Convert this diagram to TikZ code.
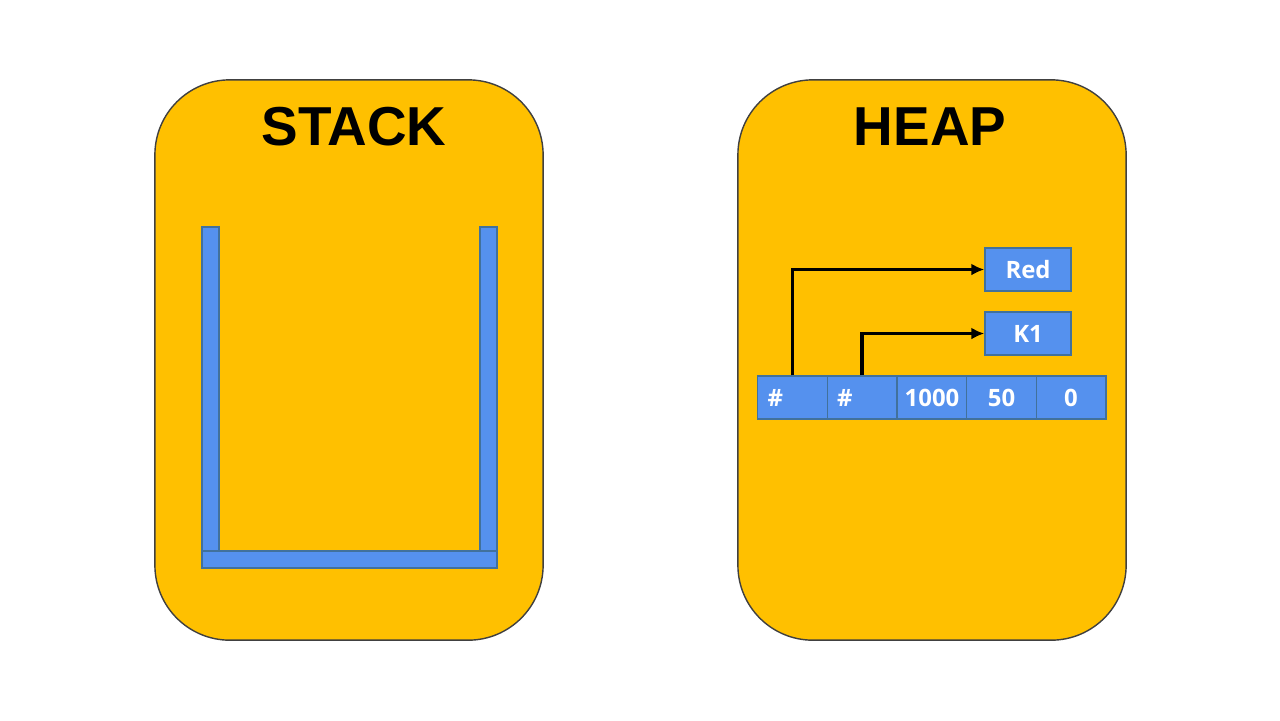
\documentclass[tikz,border=0pt]{standalone}
\usepackage{fontspec}
\setmainfont{Liberation Sans}
\newfontfamily\cellfont{Open Sans}
\usetikzlibrary{arrows.meta}
\definecolor{panelorange}{HTML}{FFC000}
\definecolor{cellblue}{HTML}{5591EE}
\definecolor{celledge}{HTML}{41719C}
\begin{document}
\begin{tikzpicture}[x=0.01cm, y=-0.01cm]

      \tikzset{panel/.style={draw=black!75, fill=panelorange, rounded corners=0.75cm, minimum width=3.88cm, minimum height=5.6cm, inner sep=0pt},
               paneltitle/.style={font=\fontsize{15.6pt}{18pt}\selectfont\bfseries, inner sep=0pt},
               wall/.style={draw=celledge, fill=cellblue, inner sep=0pt},
               cell/.style={draw=celledge, fill=cellblue, text=white, font=\cellfont\fontsize{6.8pt}{8pt}\selectfont\bfseries, minimum width=0.695cm, minimum height=0.43cm, inner sep=0pt},
               hashcell/.style={cell, text width=0.5cm, align=left},
               ptr/.style={->, >={Latex[length=1.3mm, width=1.2mm]}, line width=1.05pt}}
      \useasboundingbox (0,0) rectangle (1280,720);
%% Panels
      	\node[panel] (stack) at (349,360) {};
      	\node[panel] (heap) at (932,360) {};
      	\node[paneltitle] (stacktitle) at (354,127) {STACK};
      	\node[paneltitle] (heaptitle) at (930,127) {HEAP};
%% Stack walls
      	\node[wall, minimum width=0.17cm, minimum height=3.24cm] (lwall) at (210.5,389) {};
      	\node[wall, minimum width=0.17cm, minimum height=3.24cm] (rwall) at (488.5,389) {};
      	\node[wall, minimum width=2.95cm, minimum height=0.17cm] (floor) at (349.5,559.5) {};
%% Heap object
      	\node[hashcell] (c1) at (792.5,397.5) {\#};
      	\node[hashcell] (c2) at (862,397.5) {\#};
      	\node[cell] (c3) at (932,397.5) {1000};
      	\node[cell] (c4) at (1001.5,397.5) {50};
      	\node[cell] (c5) at (1071,397.5) {0};
      	\node[cell, minimum width=0.86cm] (red) at (1028,269.5) {Red};
      	\node[cell, minimum width=0.86cm] (k1) at (1028,333.5) {K1};
%Pointers
		\draw[ptr] (c1.north) |- (red.west);
		\draw[ptr] (c2.north) |- (k1.west);

	\end{tikzpicture}
\end{document}
